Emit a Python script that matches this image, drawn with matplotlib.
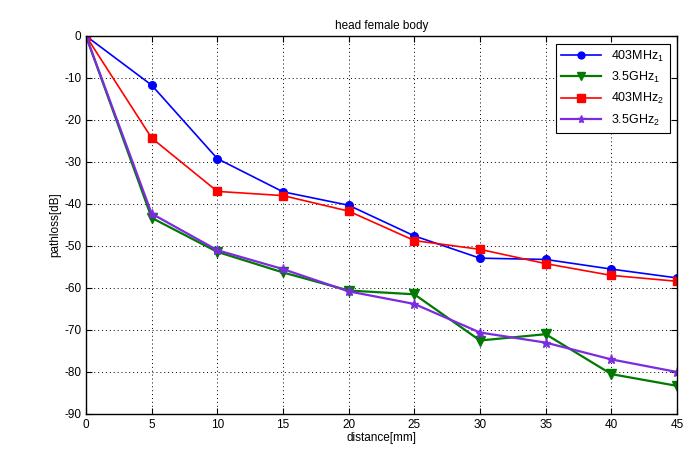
import matplotlib
matplotlib.use("Agg")
import matplotlib.pyplot as plt

distance = [0, 5, 10, 15, 20, 25, 30, 35, 40, 45]
mhz403_1 = [0, -11.7, -29.2, -37.1, -40.3, -47.6, -52.9, -53.2, -55.5, -57.6]
ghz35_1 = [0, -43.3, -51.4, -56.3, -60.6, -61.5, -72.5, -71.0, -80.5, -83.3]
mhz403_2 = [0, -24.3, -37.0, -38.0, -41.7, -48.7, -50.8, -54.2, -57.0, -58.4]
ghz35_2 = [0, -42.3, -51.0, -55.5, -60.8, -63.8, -70.6, -73.0, -77.0, -80.0]

labels = [r"403MHz$_1$", r"3.5GHz$_1$", r"403MHz$_2$", r"3.5GHz$_2$"]
xticks = list(range(0, 46, 5))
yticks = list(range(-90, 1, 10))

plt.rcParams['font.family'] = ['Liberation Sans', 'DejaVu Sans']
plt.rcParams['mathtext.fontset'] = 'custom'
plt.rcParams['mathtext.rm'] = 'Liberation Sans'
plt.rcParams['mathtext.it'] = 'Liberation Sans'
plt.rcParams['axes.unicode_minus'] = False

fig = plt.figure(figsize=(6.99, 4.53), dpi=100)
ax = fig.add_axes([86/699, 1-414/453, (677-86)/699, (414-36)/453])

ax.plot(distance, mhz403_1, color='#0000ff', lw=1.2, marker='o', ms=5.5, label=labels[0])
ax.plot(distance, ghz35_1, color='#007a00', lw=1.6, marker='v', ms=6.5, label=labels[1])
ax.plot(distance, mhz403_2, color='#ff0000', lw=1.2, marker='s', ms=6, label=labels[2])
ax.plot(distance, ghz35_2, color='#7b2be0', lw=1.6, marker='*', ms=6.5, label=labels[3])

ax.set_xlim(0, 45)
ax.set_ylim(-90, 0)
ax.set_xticks(xticks)
ax.set_yticks(yticks)
ax.tick_params(direction='in', labelsize=8.5, length=4, top=True, right=True)
ax.grid(True, color='black', linestyle=(0, (1, 3)), linewidth=0.7)
for s in ax.spines.values():
    s.set_linewidth(1.0)

ax.set_title("head female body", fontsize=8.5, pad=5)
ax.set_xlabel("distance[mm]", fontsize=8.5, labelpad=1)
ax.set_ylabel("pathloss[dB]", fontsize=8.5, labelpad=2)

leg = ax.legend(loc='upper right', fontsize=9, frameon=True, fancybox=False,
                edgecolor='black', framealpha=1, handlelength=3.2,
                borderaxespad=0.6, labelspacing=0.5, markerscale=0.9)
leg.get_frame().set_linewidth(0.8)

fig.savefig("out.png", dpi=100)
